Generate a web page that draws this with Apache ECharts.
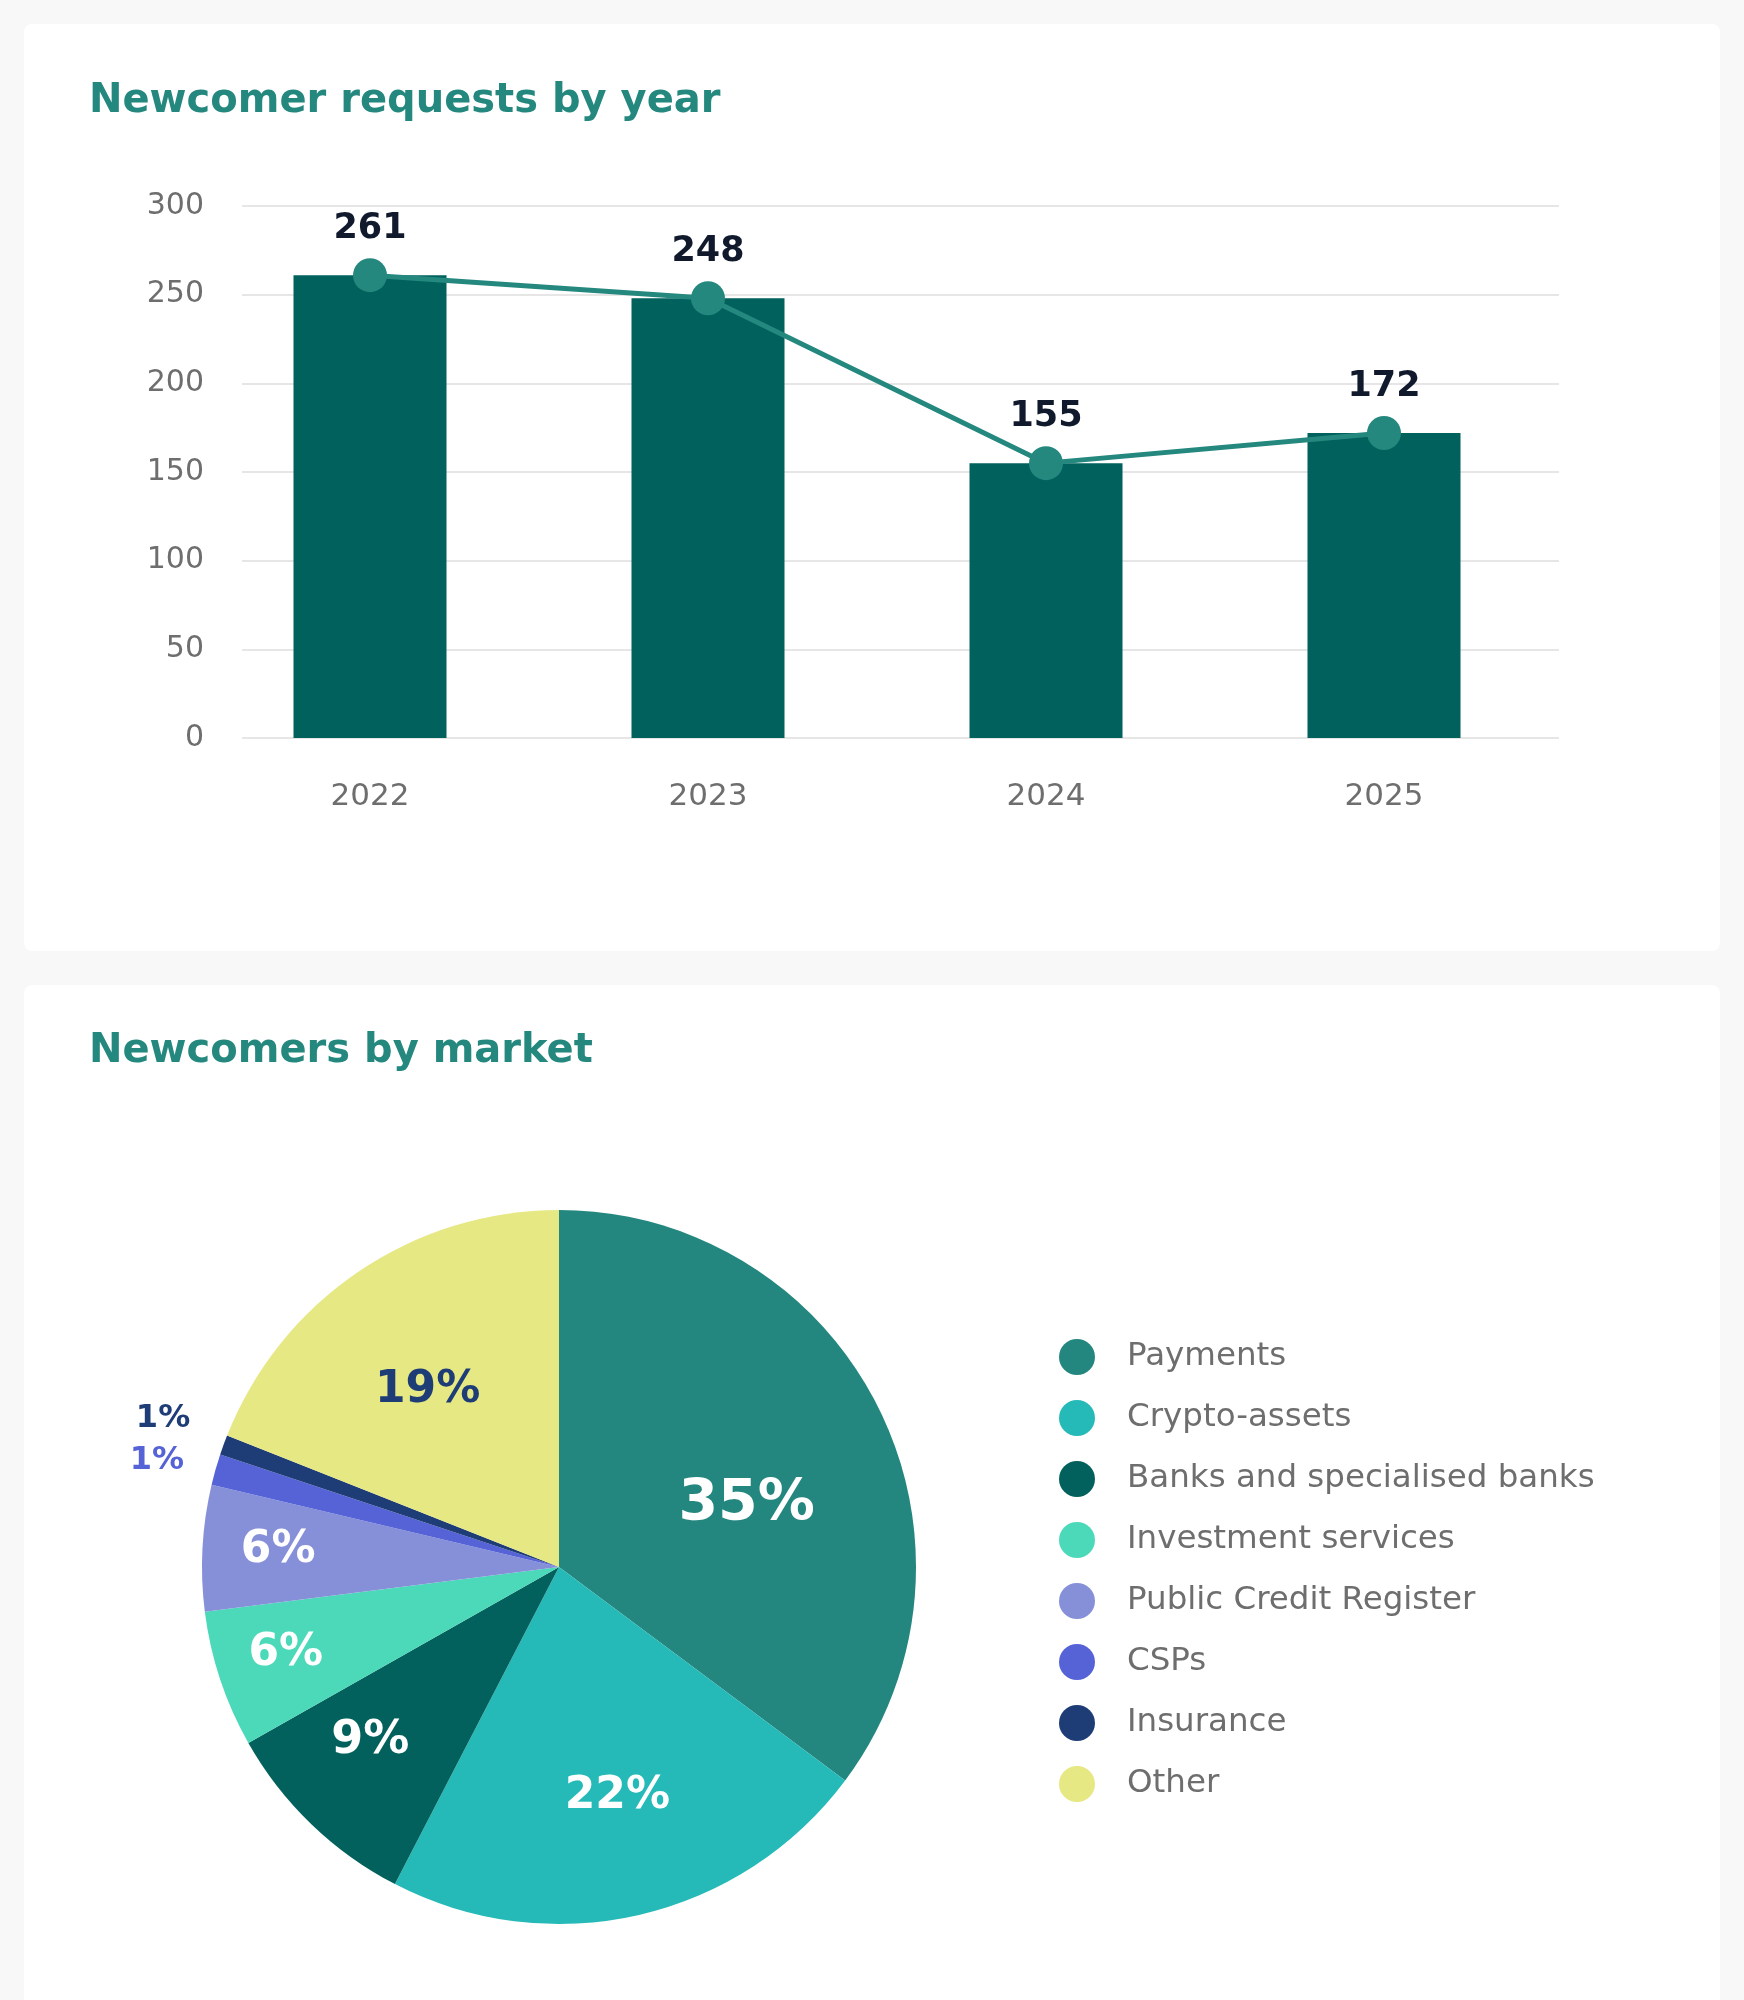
<!DOCTYPE html>
<html lang="en">
<head>
<meta charset="UTF-8">
<title>Newcomers</title>
<script src="https://cdn.jsdelivr.net/npm/echarts@6/dist/echarts.min.js"></script>
<style>
  html, body { margin: 0; padding: 0; background: #f8f8f8; }
  .card { position: absolute; left: 24px; width: 1696px; background: #fff; border-radius: 8px; }
  #card1 { top: 24px; height: 927px; }
  #card2 { top: 985px; height: 1040px; }
  .chart { width: 100%; height: 100%; }
</style>
</head>
<body>
<div class="card" id="card1"><div class="chart" id="bars"></div></div>
<div class="card" id="card2"><div class="chart" id="pie"></div></div>

<script>
  // data
  var years = ['2022', '2023', '2024', '2025'];
  var requests = [261, 248, 155, 172];

  var markets = ['Payments', 'Crypto-assets', 'Banks and specialised banks', 'Investment services',
                 'Public Credit Register', 'CSPs', 'Insurance', 'Other'];
  var marketShare = [35.2, 22.4, 9.2, 6.2, 5.7, 1.4, 0.9, 19.0];

  // styles
  var marketColors = ['#23877f', '#25bab8', '#02615c', '#4cd9b9', '#8590d9', '#5663d6', '#1e3d77', '#e6e883'];
  var labelColors = ['#fff', '#fff', '#fff', '#fff', '#fff', '#5663d6', '#1e3d77', '#1e3d77'];
  var labelSizes = [57, 44, 46, 44, 44, 32, 32, 44];
  // label distance from centre (share of radius) and angular nudge (deg)
  var labelRadius = [0.553, 0.664, 0.719, 0.803, 0.788, 1.165, 1.184, 0.616];
  var labelTurn = [8.5, -1.3, 3.4, 0.7, 0.3, -1, 0.5, -2.5];

  var FONT = 'DejaVu Sans';
  var TEAL = '#24887f';

  // bar + line chart
  var bars = echarts.init(document.getElementById('bars'));
  bars.setOption({
    textStyle: { fontFamily: FONT },
    title: {
      text: 'Newcomer requests by year',
      left: 60, top: 53,
      textStyle: { fontFamily: FONT, fontSize: 40, fontWeight: 'bold', color: TEAL }
    },
    grid: [
      { left: 218, right: 161, top: 182, bottom: 213 },
      { left: 177, right: 167, top: 182, bottom: 213 }
    ],
    xAxis: [
      { gridIndex: 0, type: 'category', data: years, show: false },
      {
        gridIndex: 1, type: 'category', data: years,
        axisLine: { show: false }, axisTick: { show: false },
        axisLabel: { fontSize: 31, color: '#6e6e6e', margin: 43, fontFamily: FONT }
      }
    ],
    yAxis: [
      {
        gridIndex: 0, type: 'value', min: 0, max: 300, interval: 50,
        axisLine: { show: false }, axisTick: { show: false },
        axisLabel: { fontSize: 30, color: '#6e6e6e', margin: 38, fontFamily: FONT, padding: [4, 0, 0, 0] },
        splitLine: { lineStyle: { color: '#dedede', width: 1.5 } }
      },
      { gridIndex: 1, type: 'value', min: 0, max: 300, interval: 50, show: false, splitLine: { show: false } }
    ],
    series: [
      {
        type: 'bar', xAxisIndex: 1, yAxisIndex: 1,
        data: requests, barWidth: 153,
        itemStyle: { color: '#01615d' }
      },
      {
        type: 'line', xAxisIndex: 1, yAxisIndex: 1,
        data: requests,
        symbol: 'circle', symbolSize: 34,
        lineStyle: { color: TEAL, width: 5 },
        itemStyle: { color: TEAL },
        label: {
          show: true, position: 'top', distance: 12,
          fontSize: 35, fontWeight: 'bold', color: '#111a2c', fontFamily: FONT
        }
      }
    ]
  });

  // pie chart
  var PIE_C = [535, 582];
  var PIE_R = 357;
  var pie = echarts.init(document.getElementById('pie'));
  pie.setOption({
    textStyle: { fontFamily: FONT },
    title: {
      text: 'Newcomers by market',
      left: 60, top: 42,
      textStyle: { fontFamily: FONT, fontSize: 40, fontWeight: 'bold', color: TEAL }
    },
    legend: {
      orient: 'vertical',
      left: 1030, top: 349,
      itemWidth: 90, itemHeight: 36, itemGap: 25,
      icon: 'circle',
      textStyle: { fontSize: 32.5, color: '#6e6e6e', fontFamily: FONT },
      data: markets
    },
    series: [
      {
        type: 'pie',
        center: PIE_C,
        radius: PIE_R,
        startAngle: 90,
        data: markets.map(function (m, i) {
          return {
            name: m, value: marketShare[i],
            itemStyle: { color: marketColors[i] },
            label: { color: labelColors[i], fontSize: labelSizes[i] }
          };
        }),
        label: {
          show: true, position: 'inside',
          fontWeight: 'bold', fontFamily: FONT,
          formatter: function (p) { return Math.round(p.percent) + '%'; }
        },
        labelLine: { show: false },
        labelLayout: function (p) {
          // move each label along its slice's bisector, then nudge the angle
          var r = p.labelRect;
          var dx = r.x + r.width / 2 - PIE_C[0], dy = r.y + r.height / 2 - PIE_C[1];
          var a = Math.atan2(dx, -dy) + labelTurn[p.dataIndex] * Math.PI / 180;
          var d = labelRadius[p.dataIndex] * PIE_R;
          return { x: PIE_C[0] + d * Math.sin(a), y: PIE_C[1] - d * Math.cos(a) };
        }
      }
    ]
  });
</script>
</body>
</html>
